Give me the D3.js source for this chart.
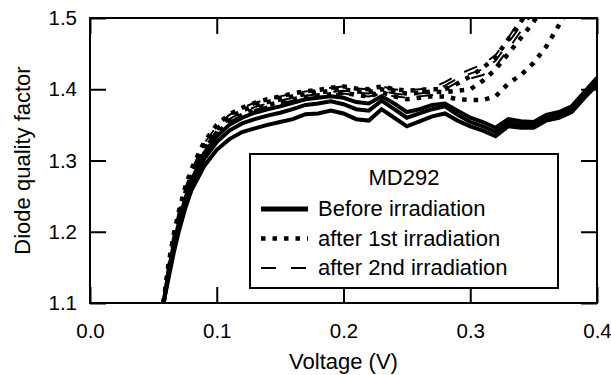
<!DOCTYPE html>
<html>
<head>
<meta charset="utf-8">
<script src="https://cdn.jsdelivr.net/npm/d3@7"></script>
<style>
  body { margin: 0; background: #fff; }
  svg { display: block; font-family: "Liberation Sans", Arial, sans-serif; }
</style>
</head>
<body>
<div id="chart"></div>
<script>
// voltage grid shared by every curve (V)
const voltage = [0.058, 0.062, 0.066, 0.070, 0.075, 0.080, 0.09, 0.10, 0.11, 0.12, 0.13, 0.14, 0.15, 0.16, 0.17, 0.18, 0.19,
    0.20, 0.21, 0.22, 0.23, 0.24, 0.25, 0.26, 0.27, 0.28, 0.29, 0.30, 0.31, 0.32, 0.33, 0.34, 0.35, 0.36, 0.37, 0.38, 0.39, 0.40]

// before irradiation (solid)
const before1 = [1.100, 1.135, 1.170, 1.200, 1.232, 1.258, 1.292, 1.315, 1.330, 1.340, 1.345, 1.350, 1.354, 1.358, 1.365, 1.366, 1.370,
    1.366, 1.358, 1.356, 1.372, 1.360, 1.348, 1.355, 1.362, 1.366, 1.356, 1.348, 1.342, 1.334, 1.348, 1.346, 1.346, 1.356, 1.360, 1.368, 1.388, 1.406]
const before2 = [1.100, 1.140, 1.176, 1.206, 1.240, 1.266, 1.302, 1.326, 1.342, 1.352, 1.358, 1.363, 1.367, 1.372, 1.378, 1.380, 1.383,
    1.379, 1.372, 1.370, 1.384, 1.372, 1.360, 1.366, 1.372, 1.376, 1.364, 1.354, 1.348, 1.340, 1.353, 1.350, 1.350, 1.360, 1.364, 1.372, 1.392, 1.412]
const before3 = [1.100, 1.145, 1.182, 1.212, 1.246, 1.272, 1.310, 1.334, 1.350, 1.360, 1.367, 1.372, 1.376, 1.381, 1.386, 1.388, 1.390,
    1.388, 1.382, 1.380, 1.390, 1.380, 1.368, 1.372, 1.378, 1.380, 1.370, 1.360, 1.354, 1.346, 1.358, 1.355, 1.354, 1.364, 1.368, 1.376, 1.396, 1.416]

// after 1st irradiation (dotted)
const first1 = [1.100, 1.150, 1.188, 1.218, 1.250, 1.276, 1.314, 1.338, 1.354, 1.364, 1.372, 1.378, 1.382, 1.386, 1.389, 1.391, 1.393,
    1.395, 1.392, 1.390, 1.396, 1.390, 1.386, 1.388, 1.390, 1.390, 1.386, 1.385, 1.385, 1.390, 1.408, 1.420, 1.437, 1.460, 1.490, 1.520, 1.550, 1.580]
const first2 = [1.100, 1.152, 1.192, 1.224, 1.256, 1.282, 1.320, 1.344, 1.360, 1.370, 1.377, 1.382, 1.386, 1.390, 1.393, 1.395, 1.398,
    1.400, 1.397, 1.396, 1.400, 1.396, 1.394, 1.395, 1.397, 1.396, 1.398, 1.400, 1.412, 1.428, 1.450, 1.472, 1.495, 1.520, 1.550, 1.580, 1.610, 1.640]
const first3 = [1.100, 1.155, 1.196, 1.228, 1.262, 1.288, 1.326, 1.350, 1.365, 1.374, 1.381, 1.386, 1.390, 1.394, 1.397, 1.399, 1.402,
    1.404, 1.401, 1.400, 1.404, 1.400, 1.398, 1.399, 1.400, 1.400, 1.408, 1.418, 1.430, 1.445, 1.470, 1.495, 1.520, 1.550, 1.580, 1.610, 1.640, 1.670]

// after 2nd irradiation (dashed)
const second1 = [1.100, 1.152, 1.190, 1.222, 1.254, 1.280, 1.318, 1.342, 1.358, 1.368, 1.375, 1.380, 1.384, 1.388, 1.391, 1.393, 1.396,
    1.398, 1.395, 1.394, 1.398, 1.394, 1.392, 1.394, 1.396, 1.405, 1.415, 1.422, 1.428, 1.440, 1.465, 1.490, 1.520, 1.550, 1.580, 1.610, 1.640, 1.670]
const second2 = [1.100, 1.156, 1.196, 1.228, 1.260, 1.286, 1.324, 1.348, 1.364, 1.374, 1.381, 1.386, 1.390, 1.394, 1.397, 1.399, 1.402,
    1.404, 1.401, 1.400, 1.404, 1.400, 1.398, 1.400, 1.402, 1.410, 1.420, 1.428, 1.435, 1.448, 1.472, 1.500, 1.530, 1.560, 1.590, 1.620, 1.650, 1.680]
const second3 = [1.100, 1.148, 1.186, 1.218, 1.250, 1.276, 1.314, 1.338, 1.354, 1.364, 1.371, 1.376, 1.380, 1.384, 1.387, 1.389, 1.392,
    1.394, 1.391, 1.390, 1.394, 1.390, 1.388, 1.390, 1.392, 1.400, 1.410, 1.415, 1.420, 1.432, 1.456, 1.482, 1.510, 1.540, 1.570, 1.600, 1.630, 1.660]

const xTicks = [0.0, 0.1, 0.2, 0.3, 0.4]
const yTicks = [1.1, 1.2, 1.3, 1.4, 1.5]

const legendTitle = "MD292"
const legendLabels = ["Before irradiation", "after 1st irradiation", "after 2nd irradiation"]

// line styles for the three conditions
const styles = [
    {width: 4, dash: null},
    {width: 4.5, dash: "4.5,7"},
    {width: 2, dash: "14,14"}
]
const groups = [
    [before1, before2, before3],
    [first1, first2, first3],
    [second1, second2, second3]
]

const width = 611, height = 375
const margin = {top: 18, right: 14, bottom: 72, left: 90}

const svg = d3.select("#chart").append("svg")
    .attr("width", width)
    .attr("height", height)

const x = d3.scaleLinear().domain([0, 0.4]).range([margin.left, width - margin.right])
const y = d3.scaleLinear().domain([1.1, 1.5]).range([height - margin.bottom, margin.top])

// clip curves to the plot frame
svg.append("clipPath").attr("id", "plot-clip")
    .append("rect")
    .attr("x", margin.left)
    .attr("y", margin.top)
    .attr("width", width - margin.left - margin.right)
    .attr("height", height - margin.top - margin.bottom)

const line = d3.line()
    .x((d, i) => x(voltage[i]))
    .y(d => y(d))

const curves = svg.append("g").attr("clip-path", "url(#plot-clip)")
groups.forEach((series, gi) => {
    series.forEach(values => {
        curves.append("path")
            .datum(values)
            .attr("d", line)
            .attr("fill", "none")
            .attr("stroke", "#000")
            .attr("stroke-width", styles[gi].width)
            .attr("stroke-dasharray", styles[gi].dash)
            .attr("stroke-linejoin", "miter")
    })
})

// axes: ticks point inwards on all four sides
function styleAxis(g) {
    g.select(".domain").remove()
    g.selectAll("line").attr("stroke", "#000").attr("stroke-width", 2)
    g.selectAll("text").attr("fill", "#000").style("font-size", "20.5px")
}

svg.append("g")
    .attr("transform", `translate(0,${y(1.1)})`)
    .call(d3.axisBottom(x).tickValues(xTicks).tickSize(-16).tickPadding(20).tickFormat(d3.format(".1f")))
    .call(styleAxis)

svg.append("g")
    .attr("transform", `translate(${x(0)},0)`)
    .call(d3.axisLeft(y).tickValues(yTicks).tickSize(-16).tickPadding(13).tickFormat(d3.format(".1f")))
    .call(styleAxis)

svg.append("g")
    .attr("transform", `translate(0,${y(1.5)})`)
    .call(d3.axisTop(x).tickValues(xTicks).tickSize(-16).tickFormat(""))
    .call(styleAxis)

svg.append("g")
    .attr("transform", `translate(${x(0.4)},0)`)
    .call(d3.axisRight(y).tickValues(yTicks).tickSize(-16).tickFormat(""))
    .call(styleAxis)

// frame
svg.append("rect")
    .attr("x", x(0))
    .attr("y", y(1.5))
    .attr("width", x(0.4) - x(0))
    .attr("height", y(1.1) - y(1.5))
    .attr("fill", "none")
    .attr("stroke", "#000")
    .attr("stroke-width", 2)

// axis titles
svg.append("text")
    .attr("x", (x(0) + x(0.4)) / 2)
    .attr("y", 369)
    .attr("text-anchor", "middle")
    .style("font-size", "22px")
    .text("Voltage (V)")

svg.append("text")
    .attr("transform", `translate(30,${(y(1.1) + y(1.5)) / 2}) rotate(-90)`)
    .attr("text-anchor", "middle")
    .style("font-size", "22px")
    .text("Diode quality factor")

// legend
const legend = svg.append("g")
legend.append("rect")
    .attr("x", 250).attr("y", 154)
    .attr("width", 308).attr("height", 134)
    .attr("fill", "#fff")
    .attr("stroke", "#000")
    .attr("stroke-width", 2)

legend.append("text")
    .attr("x", 404).attr("y", 185)
    .attr("text-anchor", "middle")
    .style("font-size", "22px")
    .text(legendTitle)

legendLabels.forEach((label, i) => {
    const cy = 209 + i * 29.5
    legend.append("line")
        .attr("x1", 261).attr("x2", 308)
        .attr("y1", cy).attr("y2", cy)
        .attr("stroke", "#000")
        .attr("stroke-width", i === 0 ? 5 : styles[i].width)
        .attr("stroke-dasharray", i === 2 ? "15,15" : styles[i].dash)
    legend.append("text")
        .attr("x", 318).attr("y", cy + 7)
        .style("font-size", "22px")
        .text(label)
})
</script>
</body>
</html>
